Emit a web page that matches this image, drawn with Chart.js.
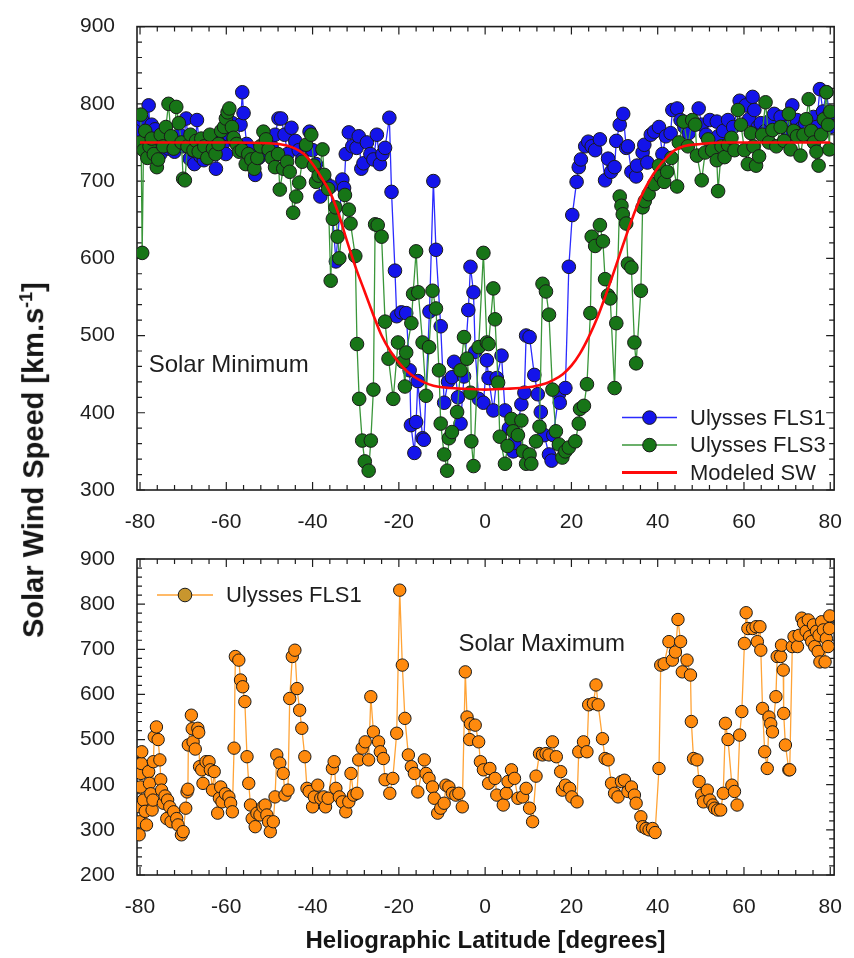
<!DOCTYPE html>
<html>
<head>
<meta charset="utf-8">
<script src="https://cdn.jsdelivr.net/npm/chart.js@4.4.1/dist/chart.umd.min.js"></script>
<style>
  html, body { margin: 0; padding: 0; background: #fff; }
  #wrap { position: relative; width: 854px; height: 958px; overflow: hidden; }
  canvas { position: absolute; left: 0; }
  #minChart { top: 0; }
  #maxChart { top: 530px; }
  #yTitle {
    position: absolute; left: 33px; top: 460px;
    transform: translate(-50%, -50%) rotate(-90deg);
    font: bold 29px "Liberation Sans", Arial, sans-serif;
    color: #151515; white-space: nowrap;
  }
  #yTitle sup { font-size: 18px; }
</style>
</head>
<body>
<div id="wrap">
  <canvas id="minChart" width="854" height="530"></canvas>
  <canvas id="maxChart" width="854" height="428"></canvas>
  <div id="yTitle">Solar Wind Speed [km.s<sup>-1</sup>]</div>
</div>
<script>
const FONT = '"Liberation Sans", Arial, sans-serif';

// x tick labels shared by both panels
const latTicks = [-80, -60, -40, -20, 0, 20, 40, 60, 80];

// Solar minimum, Ulysses FLS1 (blue)
const fls1Lat = [-80.0, -79.5, -79.0, -78.5, -78.0, -77.6, -77.3, -76.8, -76.5, -76.0, -75.3, -74.8, -74.0, -73.4, -72.8, -72.0, -71.4, -70.8, -70.0, -69.3,
  -68.5, -67.8, -67.4, -66.8, -66.0, -65.2, -64.5, -63.8, -63.0, -62.4, -61.6, -60.8, -60.1, -59.4, -58.6, -58.3, -57.5, -56.7, -56.3, -56.0,
  -55.3, -54.5, -53.8, -53.3, -52.5, -51.8, -51.0, -50.3, -49.5, -48.7, -47.9, -47.3, -46.5, -45.8, -44.9, -44.0, -43.2, -42.4, -41.5, -40.7,
  -40.0, -39.2, -38.2, -37.2, -35.8, -34.6, -33.1, -32.7, -32.3, -31.6, -30.8, -29.8, -29.3, -28.7, -28.2, -27.4, -26.6, -25.9, -25.1, -24.4,
  -23.8, -23.2, -22.2, -21.7, -20.9, -20.5, -19.4, -18.3, -17.5, -17.2, -16.4, -16.0, -15.6, -14.5, -14.2, -12.9, -12.0, -11.4, -10.3, -9.5,
  -8.6, -7.7, -7.2, -6.3, -5.7, -4.9, -3.9, -3.4, -2.7, -2.3, -1.5, -0.4, 0.4, 0.8, 1.9, 2.7, 3.8, 4.6, 5.5, 6.5,
  6.8, 8.4, 9.1, 9.5, 10.3, 11.4, 12.2, 12.9, 13.7, 14.8, 15.4, 15.8, 17.1, 17.3, 18.6, 19.4, 20.2, 21.2, 21.7, 22.2,
  23.2, 23.9, 24.7, 25.5, 26.6, 27.8, 28.5, 29.2, 30.0, 30.4, 31.2, 32.0, 32.7, 33.1, 33.9, 35.0, 35.2, 36.5, 36.9, 37.6,
  38.4, 39.2, 40.3, 41.1, 41.9, 43.0, 43.4, 44.5, 45.3, 46.2, 47.2, 48.3, 49.5, 50.2, 51.2, 52.1, 53.7, 54.0, 55.2, 56.3,
  57.5, 59.0, 60.4, 61.2, 62.0, 62.4, 63.2, 63.9, 65.0, 66.0, 67.0, 68.5, 69.5, 70.3, 71.2, 72.3, 73.2, 74.2, 75.0, 76.1,
  76.8, 77.6, 78.3, 79.1, 79.8, 80.0];
const fls1Speed = [765, 779, 752, 745, 798, 760, 773, 740, 767, 752, 735, 748, 760, 742, 755, 738, 748, 760, 745, 781,
  729, 740, 722, 779, 732, 727, 745, 738, 752, 716, 740, 748, 735, 760, 775, 754, 748, 773, 815, 788,
  748, 740, 725, 708, 730, 745, 738, 752, 745, 760, 781, 781, 760, 735, 769, 752, 740, 728, 745, 764,
  740, 722, 680, 700, 693, 596, 702, 691, 735, 763, 745, 743, 758, 716, 723, 750, 735, 728, 760, 722,
  735, 743, 782, 686, 584, 525, 530, 529, 455, 384, 348, 388, 441, 367, 365, 531, 700, 611, 512, 413,
  440, 446, 466, 420, 386, 447, 533, 589, 556, 479, 418, 413, 468, 445, 403, 445, 474, 403, 380, 350,
  361, 411, 426, 500, 498, 449, 424, 401, 371, 346, 338, 371, 424, 413, 432, 589, 656, 699, 718, 728,
  745, 751, 745, 740, 754, 701, 729, 712, 718, 752, 773, 787, 743, 745, 712, 706, 720, 737, 747, 724,
  760, 764, 770, 735, 758, 762, 792, 794, 779, 770, 762, 775, 794, 773, 760, 779, 777, 758, 765, 779,
  770, 804, 798, 780, 809, 792, 770, 775, 765, 778, 787, 783, 770, 760, 798, 779, 768, 775, 760, 783,
  770, 819, 790, 815, 787, 770];

// Solar minimum, Ulysses FLS3 (green)
const fls3Lat = [-80.0, -79.8, -79.5, -79.2, -78.8, -78.3, -77.8, -77.3, -76.8, -76.1, -75.8, -75.2, -74.6, -74.0, -73.4, -72.8, -72.2, -71.6, -71.0, -70.4,
  -70.0, -69.6, -69.0, -68.3, -67.6, -67.0, -66.4, -65.8, -65.1, -64.4, -63.8, -63.1, -62.5, -61.8, -61.2, -60.5, -60.1, -59.7, -59.3, -58.7,
  -58.3, -57.6, -57.0, -56.4, -55.5, -54.9, -54.2, -53.5, -52.8, -52.1, -51.4, -50.8, -50.2, -49.5, -48.7, -48.0, -47.6, -46.8, -45.9, -45.3,
  -44.5, -43.8, -43.1, -42.4, -41.5, -40.3, -39.7, -39.2, -38.6, -37.7, -37.3, -36.4, -35.8, -35.3, -34.7, -34.2, -33.8, -32.5, -31.6, -31.2,
  -30.1, -29.7, -29.2, -28.5, -27.9, -27.0, -26.5, -25.9, -25.5, -24.9, -24.0, -23.2, -22.4, -21.3, -20.2, -19.0, -18.6, -18.3, -17.1, -16.7,
  -16.0, -15.5, -14.5, -13.7, -13.0, -12.2, -11.4, -10.7, -10.3, -9.5, -8.8, -8.4, -7.7, -6.5, -5.7, -4.9, -4.2, -3.4, -3.2, -2.7,
  -1.5, -0.4, 0.4, 0.8, 1.9, 2.3, 3.0, 3.4, 4.6, 5.2, 6.1, 6.5, 7.6, 8.4, 8.8, 9.5, 10.3, 10.7, 11.8, 12.6,
  13.3, 14.1, 14.8, 15.6, 16.4, 17.1, 17.9, 18.6, 19.4, 20.9, 21.7, 22.0, 22.9, 23.6, 24.4, 24.7, 25.5, 26.6, 27.3, 27.8,
  28.5, 29.0, 30.0, 30.4, 31.2, 31.6, 31.9, 32.7, 33.1, 33.9, 34.6, 35.0, 36.1, 36.5, 37.0, 37.9, 39.2, 40.3, 40.7, 41.5,
  42.2, 43.2, 44.5, 44.9, 46.0, 47.0, 48.0, 48.7, 49.1, 50.2, 51.0, 51.7, 52.6, 53.7, 54.0, 54.8, 55.5, 56.3, 57.1, 57.8,
  58.6, 59.3, 60.1, 60.9, 61.6, 62.2, 62.8, 63.5, 64.2, 65.0, 65.8, 66.6, 67.5, 68.5, 69.3, 70.4, 70.8, 71.5, 72.3, 73.1,
  73.8, 74.4, 75.0, 75.6, 76.2, 76.8, 77.3, 77.9, 78.5, 79.1, 79.5, 79.8, 80.0];
const fls3Speed = [750, 786, 607, 740, 765, 730, 745, 755, 735, 718, 728, 760, 745, 770, 800, 758, 742, 796, 775, 750,
  703, 701, 745, 760, 740, 752, 738, 755, 745, 730, 760, 742, 735, 748, 765, 770, 781, 789, 794, 770,
  756, 748, 738, 740, 722, 735, 728, 716, 730, 745, 764, 754, 741, 730, 718, 735, 689, 716, 725, 712,
  659, 680, 698, 725, 747, 760, 720, 699, 707, 741, 708, 690, 571, 651, 666, 628, 600, 682, 663, 645,
  603, 489, 418, 364, 337, 325, 364, 430, 644, 643, 628, 518, 470, 418, 491, 466, 434, 478, 516, 554,
  609, 556, 491, 422, 485, 558, 535, 455, 386, 346, 325, 367, 375, 401, 455, 498, 470, 426, 363, 331,
  485, 607, 491, 489, 561, 521, 439, 369, 334, 357, 392, 376, 371, 390, 350, 334, 346, 334, 363, 382,
  567, 557, 527, 430, 376, 359, 342, 350, 355, 363, 386, 405, 409, 437, 529, 628, 616, 643, 622, 573,
  552, 548, 432, 516, 680, 668, 657, 645, 593, 588, 491, 464, 558, 666, 674, 683, 696, 720, 706, 699,
  712, 730, 693, 750, 777, 745, 779, 773, 733, 701, 737, 754, 740, 727, 687, 745, 731, 747, 756, 740,
  792, 773, 740, 722, 762, 745, 720, 732, 760, 802, 750, 766, 745, 770, 752, 787, 741, 765, 758, 733,
  760, 780, 806, 765, 750, 738, 720, 760, 780, 815, 773, 741, 790];

// Solar minimum, modeled solar wind (red)
const modelLat = [-80, -60, -50, -46, -44, -42, -40, -38, -36, -34, -32, -30, -28, -26, -24, -22, -20, -18, -16, -14, -12, -10, -5, 0,
  5, 10, 12, 14, 16, 18, 20, 22, 24, 26, 28, 30, 32, 34, 36, 38, 40, 42, 44, 46, 50, 55, 80];
const modelSpeed = [750, 750, 749, 746, 742, 735, 722, 705, 686, 658, 622, 588, 558, 528, 500, 480, 465, 453, 445, 439, 435, 433, 431, 430,
  431, 433, 435, 438, 443, 450, 461, 477, 498, 523, 553, 585, 618, 650, 678, 700, 717, 730, 740, 745, 748, 750, 750];

// Solar maximum, Ulysses FLS1 (orange)
const maxLat = [-80.2, -80.1, -80.0, -79.9, -79.8, -79.7, -79.6, -79.2, -78.8, -78.5, -78.0, -77.8, -77.5, -77.2, -77.0, -76.9, -76.7, -76.2, -75.8, -75.4,
  -75.2, -75.0, -74.6, -74.2, -73.8, -73.6, -73.1, -72.8, -72.2, -71.5, -71.2, -70.4, -70.0, -69.4, -69.1, -68.9, -68.8, -68.1, -67.9, -67.7,
  -67.2, -66.6, -66.4, -66.2, -65.7, -65.4, -64.7, -64.0, -63.7, -63.2, -62.8, -62.0, -61.6, -61.3, -61.0, -60.2, -59.4, -59.0, -58.6, -58.2,
  -57.9, -57.1, -56.7, -56.2, -55.7, -55.2, -54.8, -54.4, -54.0, -53.3, -52.9, -52.2, -51.5, -51.0, -50.6, -50.2, -49.8, -49.1, -48.7, -48.3,
  -47.6, -46.8, -46.4, -45.7, -45.3, -44.7, -44.1, -43.6, -43.0, -42.5, -41.8, -41.3, -40.8, -40.0, -39.6, -38.8, -38.1, -37.4, -37.0, -36.4,
  -35.4, -35.0, -34.6, -33.8, -33.1, -32.3, -31.6, -31.1, -30.5, -29.7, -29.3, -28.5, -27.8, -27.0, -26.5, -25.9, -24.7, -24.3, -23.6, -23.2,
  -22.1, -21.4, -20.5, -19.8, -19.2, -18.6, -17.8, -17.1, -16.4, -15.6, -14.1, -13.7, -13.0, -12.2, -11.8, -11.0, -10.3, -9.5, -9.1, -8.4,
  -7.6, -6.8, -6.1, -5.3, -4.6, -4.2, -3.6, -3.4, -2.3, -1.5, -1.1, -0.4, 0.8, 1.1, 2.3, 2.7, 4.2, 4.9, 5.3, 6.1,
  6.8, 7.6, 8.7, 9.5, 10.3, 11.0, 11.8, 12.6, 13.3, 14.1, 14.8, 15.6, 16.5, 17.5, 17.9, 18.6, 19.6, 20.1, 21.3, 21.7,
  22.8, 23.6, 24.0, 25.1, 25.7, 26.2, 27.2, 27.8, 28.5, 29.3, 30.0, 30.8, 31.6, 32.3, 33.1, 33.9, 34.6, 35.0, 36.1, 36.5,
  37.3, 38.0, 38.8, 39.4, 40.3, 40.7, 41.5, 42.6, 43.4, 44.1, 44.7, 45.3, 45.7, 46.8, 47.6, 47.8, 48.3, 49.1, 49.6, 50.2,
  50.6, 51.5, 52.1, 52.8, 53.2, 53.9, 54.6, 55.2, 55.7, 56.3, 57.2, 57.8, 58.4, 59.0, 59.5, 60.1, 60.5, 60.9, 62.0, 62.8,
  63.1, 63.7, 63.9, 64.3, 64.8, 65.4, 65.8, 66.2, 66.6, 67.4, 67.7, 68.5, 68.7, 69.1, 69.2, 69.6, 70.4, 70.6, 71.2, 71.6,
  72.4, 72.8, 73.4, 73.8, 74.4, 74.9, 75.2, 75.7, 76.1, 76.4, 76.8, 77.2, 77.4, 77.6, 78.0, 78.4, 78.8, 79.1, 79.5, 79.8,
  79.9];
const maxSpeed = [289, 318, 351, 395, 425, 447, 473, 366, 341, 311, 429, 403, 380, 344, 366, 451, 506, 528, 500, 455,
  411, 388, 359, 375, 325, 366, 351, 318, 340, 325, 311, 289, 296, 348, 384, 390, 488, 554, 524, 495,
  479, 525, 516, 440, 433, 403, 451, 451, 433, 388, 429, 337, 370, 395, 362, 380, 373, 359, 340, 481,
  684, 676, 632, 617, 584, 462, 403, 355, 325, 307, 337, 333, 351, 355, 333, 318, 296, 318, 373, 466,
  448, 425, 377, 388, 591, 684, 698, 613, 565, 525, 462, 392, 385, 351, 373, 399, 370, 373, 351, 370,
  436, 451, 392, 373, 362, 340, 362, 425, 377, 381, 455, 481, 495, 455, 595, 517, 495, 473, 458, 411,
  381, 414, 514, 831, 665, 547, 466, 440, 425, 384, 455, 425, 414, 395, 370, 337, 348, 359, 399, 395,
  381, 377, 381, 351, 650, 550, 500, 535, 532, 495, 451, 433, 403, 436, 414, 377, 355, 381, 407, 433,
  414, 370, 373, 392, 348, 318, 419, 469, 466, 469, 466, 495, 462, 429, 388, 399, 392, 373, 362, 473,
  495, 473, 577, 580, 621, 577, 502, 458, 455, 403, 381, 373, 407, 410, 385, 395, 377, 359, 329, 307,
  303, 300, 303, 294, 436, 665, 668, 717, 676, 694, 766, 717, 650, 676, 643, 540, 458, 455, 407, 377,
  362, 388, 366, 355, 348, 344, 344, 381, 536, 500, 399, 385, 355, 510, 562, 713, 781, 746, 746, 750,
  717, 750, 698, 569, 473, 436, 550, 535, 517, 595, 684, 684, 709, 654, 558, 488, 433, 433, 706, 728,
  706, 731, 769, 758, 740, 765, 728, 717, 754, 706, 740, 695, 731, 672, 761, 743, 672, 724, 706, 746,
  774];

function pairs(xs, ys) {
  return xs.map((x, i) => ({ x: x, y: ys[i] }));
}

// box round the plot with inward ticks on all four sides
const framePlugin = {
  id: 'frame',
  beforeDatasetsDraw(chart) {
    const { ctx, chartArea: a, scales: { x, y } } = chart;
    ctx.save();
    ctx.strokeStyle = '#1e1e1e';
    ctx.lineWidth = 1.6;
    ctx.strokeRect(a.left, a.top, a.right - a.left, a.bottom - a.top);
    ctx.lineWidth = 1.2;
    ctx.beginPath();
    for (let v = -80; v <= 80; v += 4) {
      const px = x.getPixelForValue(v);
      const len = v % 20 === 0 ? 8 : 5;
      ctx.moveTo(px, a.bottom); ctx.lineTo(px, a.bottom - len);
      ctx.moveTo(px, a.top); ctx.lineTo(px, a.top + len);
    }
    for (let v = y.min; v <= y.max; v += 20) {
      const py = y.getPixelForValue(v);
      const len = v % 100 === 0 ? 8 : 5;
      ctx.moveTo(a.left, py); ctx.lineTo(a.left + len, py);
      ctx.moveTo(a.right, py); ctx.lineTo(a.right - len, py);
    }
    ctx.stroke();
    ctx.restore();
  }
};

// text notes inside the plot and the legend boxed in the plot area
function notesPlugin(labels, legend) {
  return {
    id: 'notes',
    afterDatasetsDraw(chart) {
      const { ctx, chartArea: a, scales: { x, y } } = chart;
      ctx.save();
      ctx.fillStyle = '#1e1e1e';
      ctx.textBaseline = 'middle';
      ctx.textAlign = 'left';
      ctx.font = '24px ' + FONT;
      labels.forEach(l => {
        ctx.fillText(l.text, x.getPixelForValue(l.x), y.getPixelForValue(l.y));
      });
      ctx.font = '22px ' + FONT;
      legend.items.forEach((it, i) => {
        const ly = a.top + legend.top + i * legend.gap;
        const lx = a.left + legend.left;
        ctx.strokeStyle = it.line;
        ctx.lineWidth = it.lineWidth;
        ctx.beginPath();
        ctx.moveTo(lx, ly);
        ctx.lineTo(lx + legend.lineLen, ly);
        ctx.stroke();
        if (it.dot) {
          ctx.beginPath();
          ctx.arc(lx + legend.lineLen / 2, ly, 6.8, 0, Math.PI * 2);
          ctx.fillStyle = it.dot;
          ctx.fill();
          ctx.lineWidth = 1;
          ctx.strokeStyle = '#1a1a1a';
          ctx.stroke();
        }
        ctx.fillStyle = '#1e1e1e';
        ctx.fillText(it.text, a.left + legend.textX, ly + 1);
      });
      ctx.restore();
    }
  };
}

function xAxis(height, title) {
  return {
    type: 'linear', min: -80.7, max: 80.9,
    grid: { display: false }, border: { display: false },
    afterBuildTicks: s => { s.ticks = latTicks.map(v => ({ value: v })); },
    afterFit: s => { s.height = height; },
    ticks: { color: '#1e1e1e', font: { size: 21, family: FONT }, padding: 12, maxRotation: 0, autoSkip: false },
    title: title
  };
}

function yAxis(min, max) {
  return {
    min: min, max: max,
    grid: { display: false }, border: { display: false },
    afterFit: s => { s.width = 100; },
    ticks: { stepSize: 100, color: '#1e1e1e', font: { size: 21, family: FONT }, padding: 14 }
  };
}

const pointStyle = { pointRadius: 6.8, pointBorderWidth: 1, pointBorderColor: '#1a1a1a', pointHoverRadius: 6.8 };

new Chart(document.getElementById('minChart').getContext('2d'), {
  type: 'line',
  data: {
    datasets: [
      {
        label: 'Modeled SW', data: pairs(modelLat, modelSpeed), order: 0,
        borderColor: '#ff0a0a', borderWidth: 2.6, pointRadius: 0, cubicInterpolationMode: 'monotone', clip: 0
      },
      Object.assign({
        label: 'Ulysses FLS3', data: pairs(fls3Lat, fls3Speed), order: 1,
        borderColor: '#3a963a', borderWidth: 1.3, pointBackgroundColor: '#177517', clip: 0
      }, pointStyle),
      Object.assign({
        label: 'Ulysses FLS1', data: pairs(fls1Lat, fls1Speed), order: 2,
        borderColor: '#2b2bff', borderWidth: 1.3, pointBackgroundColor: '#1414ea', clip: 0
      }, pointStyle)
    ]
  },
  options: {
    responsive: false,
    animation: false,
    layout: { padding: { left: 37, right: 11, top: 14, bottom: 0 } },
    plugins: { legend: { display: false }, tooltip: { enabled: false } },
    scales: {
      x: xAxis(40, { display: false }),
      y: yAxis(300, 900)
    }
  },
  plugins: [framePlugin, notesPlugin(
    [{ text: 'Solar Minimum', x: -78, y: 462 }],
    {
      left: 485, top: 391, gap: 27.5, lineLen: 55, textX: 553,
      items: [
        { text: 'Ulysses FLS1', line: '#2b2bff', lineWidth: 1.5, dot: '#1414ea' },
        { text: 'Ulysses FLS3', line: '#3a963a', lineWidth: 1.5, dot: '#177517' },
        { text: 'Modeled SW', line: '#ff0a0a', lineWidth: 3, dot: null }
      ]
    }
  )]
});

new Chart(document.getElementById('maxChart').getContext('2d'), {
  type: 'line',
  data: {
    datasets: [
      Object.assign({
        label: 'Ulysses FLS1', data: pairs(maxLat, maxSpeed),
        borderColor: '#ffa336', borderWidth: 1.3, pointBackgroundColor: '#ff8a0d', clip: 0
      }, pointStyle, { pointRadius: 6.2 })
    ]
  },
  options: {
    responsive: false,
    animation: false,
    layout: { padding: { left: 37, right: 11, top: 29, bottom: 0 } },
    plugins: { legend: { display: false }, tooltip: { enabled: false } },
    scales: {
      x: xAxis(83, {
        display: true, text: 'Heliographic Latitude [degrees]', color: '#151515',
        font: { size: 24, weight: 'bold', family: FONT }, padding: { top: 0, bottom: 2 }
      }),
      y: yAxis(200, 900)
    }
  },
  plugins: [framePlugin, notesPlugin(
    [{ text: 'Solar Maximum', x: -6.2, y: 710 }],
    {
      left: 20, top: 36, gap: 0, lineLen: 56, textX: 89,
      items: [{ text: 'Ulysses FLS1', line: '#ffa336', lineWidth: 1.5, dot: '#c8962e' }]
    }
  )]
});
</script>
</body>
</html>
